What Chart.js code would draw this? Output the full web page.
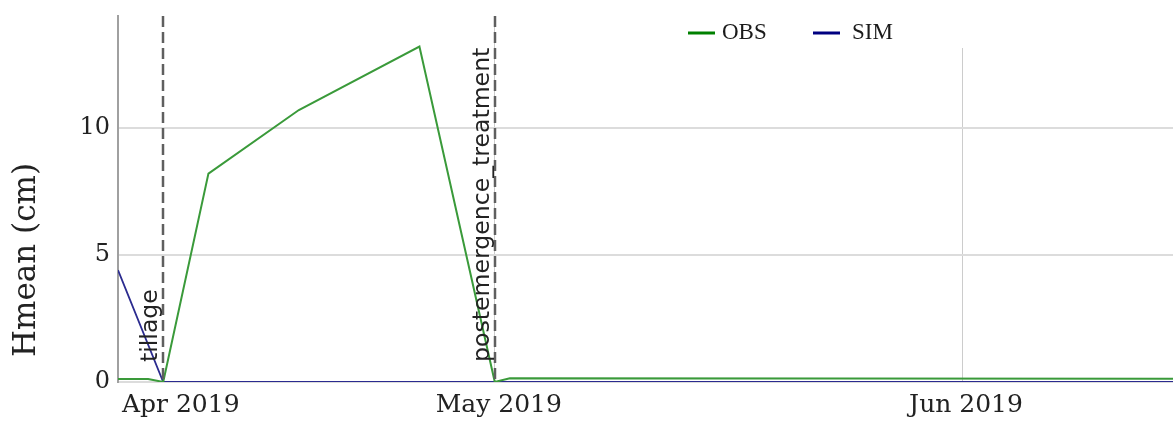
<!DOCTYPE html>
<html>
<head>
<meta charset="utf-8">
<script src="https://cdn.jsdelivr.net/npm/chart.js@4.4.0/dist/chart.umd.min.js"></script>
<style>
  html, body { margin: 0; padding: 0; background: #fff; }
  #grafico { display: block; }
</style>
</head>
<body>
<canvas id="grafico" width="1173" height="421"></canvas>
<script>
// Datos
const obsDates = ["2019-04-06", "2019-04-08", "2019-04-09", "2019-04-12", "2019-04-18", "2019-04-26", "2019-05-01", "2019-05-02", "2019-06-15"];
const obsValues = [0.12, 0.12, 0, 8.2, 10.7, 13.2, 0, 0.15, 0.13];
const simDates = ["2019-04-06", "2019-04-09", "2019-06-15"];
const simValues = [4.4, 0, 0];

// Eventos (lineas verticales)
const eventNames = ["tillage", "postemergence_treatment"];
const eventDates = ["2019-04-09", "2019-05-01"];

// Ejes
const xStart = "2019-04-06";
const xEnd = "2019-06-15";
const xTickDates = ["2019-04-06", "2019-05-01", "2019-06-01", "2019-06-15"];
const xTickLabels = ["Apr 2019", "May 2019", "Jun 2019", ""];
const yTicks = [0, 5, 10];
const yMax = 14.4;
const yTitle = "Hmean (cm)";

// dias desde el 1 de abril
function dayNum(s) {
  const p = s.split("-").map(Number);
  return (Date.UTC(p[0], p[1] - 1, p[2]) - Date.UTC(2019, 3, 1)) / 86400000;
}

const toPoints = (dates, vals) => dates.map((d, i) => ({ x: dayNum(d), y: vals[i] }));

// Lineas de eventos con su texto
const eventLines = {
  id: "eventLines",
  afterDatasetsDraw(chart) {
    const { ctx, chartArea } = chart;
    const xs = chart.scales.x;
    ctx.save();
    eventDates.forEach((d, i) => {
      const px = Math.round(xs.getPixelForValue(dayNum(d)));
      ctx.strokeStyle = "#5f5f5f";
      ctx.lineWidth = 2.5;
      ctx.setLineDash([11, 5]);
      ctx.beginPath();
      ctx.moveTo(px, chartArea.top);
      ctx.lineTo(px, chartArea.bottom);
      ctx.stroke();
      ctx.setLineDash([]);
      ctx.save();
      ctx.translate(px - 6, 362);
      ctx.rotate(-Math.PI / 2);
      ctx.fillStyle = "#222";
      ctx.font = "23.6px 'DejaVu Sans'";
      ctx.textAlign = "left";
      ctx.textBaseline = "alphabetic";
      ctx.fillText(eventNames[i], 0, 0);
      ctx.restore();
    });
    ctx.restore();
  },
};

// Leyenda y titulo del eje Y
const leyenda = {
  id: "leyenda",
  beforeDatasetsDraw(chart) {
    const { ctx, chartArea } = chart;
    ctx.save();
    ctx.fillStyle = "#fff";
    ctx.fillRect(670, chartArea.top, chartArea.right - 670, 32);
    const items = [
      { x: 688, tx: 722 },
      { x: 813, tx: 852 },
    ];
    chart.data.datasets.forEach((ds, i) => {
      ctx.strokeStyle = ds.legendColor;
      ctx.lineWidth = 3;
      ctx.beginPath();
      ctx.moveTo(items[i].x, 33);
      ctx.lineTo(items[i].x + 27, 33);
      ctx.stroke();
      ctx.fillStyle = "#1a1a1a";
      ctx.font = "23px 'Liberation Serif'";
      ctx.textBaseline = "alphabetic";
      ctx.fillText(ds.label, items[i].tx, 39);
    });
    ctx.restore();
  },
  afterDraw(chart) {
    const ctx = chart.ctx;
    ctx.save();
    ctx.translate(27, 260);
    ctx.rotate(-Math.PI / 2);
    ctx.fillStyle = "#222";
    ctx.font = "31px 'DejaVu Serif'";
    ctx.textAlign = "center";
    ctx.textBaseline = "middle";
    ctx.fillText(yTitle, 0, 0);
    ctx.restore();
  },
};

const sinRelleno = (s) => {
  s.paddingLeft = 0;
  s.paddingRight = 0;
  s.paddingTop = 0;
  s.paddingBottom = 0;
};

const contexto = document.getElementById("grafico").getContext("2d");
const grafico = new Chart(contexto, {
  type: "line",
  data: {
    datasets: [
      {
        label: "OBS",
        data: toPoints(obsDates, obsValues),
        borderColor: "#3a9a3a",
        legendColor: "green",
        borderWidth: 2,
        pointRadius: 0,
        tension: 0,
      },
      {
        label: "SIM",
        data: toPoints(simDates, simValues),
        borderColor: "#2b2b8f",
        legendColor: "navy",
        borderWidth: 1.8,
        pointRadius: 0,
        tension: 0,
      },
    ],
  },
  options: {
    responsive: false,
    animation: false,
    devicePixelRatio: 1,
    layout: { padding: { top: 16, left: 0, right: 0, bottom: 0 } },
    plugins: {
      legend: { display: false },
      tooltip: { enabled: false },
    },
    scales: {
      x: {
        type: "linear",
        min: dayNum(xStart),
        max: dayNum(xEnd),
        afterBuildTicks: (s) => {
          s.ticks = xTickDates.map((d) => ({ value: dayNum(d) }));
        },
        afterFit: (s) => {
          s.height = 39;
          sinRelleno(s);
        },
        ticks: {
          autoSkip: false,
          maxRotation: 0,
          align: "inner",
          labelOffset: 4,
          padding: 8,
          color: "#222",
          font: { family: "'DejaVu Serif'", size: 25 },
          callback: (v, i) => xTickLabels[i],
        },
        grid: {
          drawTicks: false,
          lineWidth: 1,
          color: (c) => (c.tick && (c.tick.value === dayNum("2019-06-01") || c.tick.value === dayNum("2019-05-01")) ? "#cccccc" : "rgba(0,0,0,0)"),
        },
        border: { display: false },
      },
      y: {
        min: 0,
        max: yMax,
        afterBuildTicks: (s) => {
          s.ticks = yTicks.map((v) => ({ value: v }));
        },
        afterFit: (s) => {
          s.width = 118;
          sinRelleno(s);
        },
        ticks: {
          padding: 8,
          color: "#222",
          font: { family: "'DejaVu Serif'", size: 24 },
        },
        grid: {
          drawTicks: false,
          lineWidth: 2,
          color: "#dcdcdc",
        },
        border: { color: "#a0a0a0", width: 2 },
      },
    },
  },
  plugins: [eventLines, leyenda],
});
</script>
</body>
</html>
